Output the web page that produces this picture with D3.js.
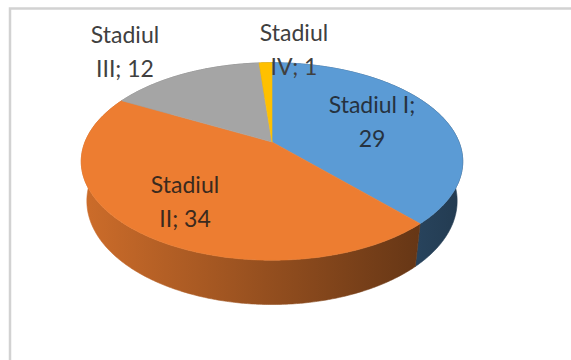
<!DOCTYPE html>
<html>
<head>
<meta charset="utf-8">
<script src="https://cdn.jsdelivr.net/npm/d3@7"></script>
<style>
  body { margin: 0; background: #fff; }
  svg { display: block; }
</style>
</head>
<body>
<div id="chart"></div>
<script>
// Data
const categories = ['Stadiul I', 'Stadiul II', 'Stadiul III', 'Stadiul IV'];
const values = [29, 34, 12, 1];
const colors = ['#5B9BD5', '#ED7D31', '#A5A5A5', '#FFC000'];
// word index where each label wraps to the second line
const labelBreaks = [2, 1, 1, 1];

const width = 571, height = 360;

// 3D pie geometry (perspective projection)
const cx = 272, cy = 142, S = 187;
const elev = 30.5 * Math.PI / 180;
const D = 4.37;     // camera distance, in radius units
const H = 0.25;     // pie thickness, in radius units

const xScale = d3.scaleLinear().domain([-1, 1]).range([cx - S, cx + S]);
const yScale = d3.scaleLinear().domain([-1, 1]).range([cy - S, cy + S]);

function project(theta, r, up) {
  const x = Math.sin(theta) * r;
  const z = -Math.cos(theta) * r;
  const sy = z * Math.sin(elev) - up * Math.cos(elev);
  const d = D - (z * Math.cos(elev) + up * Math.sin(elev));
  const f = D / d;
  return [xScale(x * f), yScale(sy * f)];
}

function arcPoints(a0, a1, up) {
  const n = Math.max(2, Math.ceil((a1 - a0) / (Math.PI / 360)));
  return d3.range(n + 1).map(i => project(a0 + (a1 - a0) * i / n, 1, up));
}

const svg = d3.select('#chart')
  .append('svg')
  .attr('width', width)
  .attr('height', height);

// Chart frame (only top and left edges show)
svg.append('path')
  .attr('d', `M10,${height} L10,8.5 L${width},8.5`)
  .attr('fill', 'none')
  .attr('stroke', '#d2d2d2')
  .attr('stroke-width', 2.5);

const pie = d3.pie().sort(null).value(d => d);
const arcs = pie(values);

const defs = svg.append('defs');
arcs.forEach((a, i) => {
  const base = d3.rgb(colors[i]);
  const shade = k => d3.rgb(base.r * k, base.g * k, base.b * k).formatHex();
  const grad = defs.append('linearGradient')
    .attr('id', `side-${i}`)
    .attr('gradientUnits', 'userSpaceOnUse')
    .attr('x1', cx - S).attr('x2', cx + S)
    .attr('y1', 0).attr('y2', 0);
  grad.append('stop').attr('offset', 0).attr('stop-color', shade(0.86));
  grad.append('stop').attr('offset', 1).attr('stop-color', shade(0.38));
});

const line = d3.line();

// Side walls, back slices first
const wallGroup = svg.append('g').attr('class', 'walls');
const order = arcs.map((a, i) => i).sort((p, q) => {
  const dp = Math.abs((arcs[p].startAngle + arcs[p].endAngle) / 2 - Math.PI);
  const dq = Math.abs((arcs[q].startAngle + arcs[q].endAngle) / 2 - Math.PI);
  return dq - dp;
});
order.forEach(i => {
  const a = arcs[i];
  const top = arcPoints(a.startAngle, a.endAngle, 0);
  const bottom = arcPoints(a.startAngle, a.endAngle, -H).reverse();
  wallGroup.append('path')
    .attr('d', line(top.concat(bottom)) + 'Z')
    .attr('fill', `url(#side-${i})`)
    .attr('stroke', `url(#side-${i})`)
    .attr('stroke-width', 0.6);
});

// Top faces
const topGroup = svg.append('g').attr('class', 'tops');
arcs.forEach((a, i) => {
  const pts = [project(0, 0, 0)].concat(arcPoints(a.startAngle, a.endAngle, 0));
  topGroup.append('path')
    .attr('d', line(pts) + 'Z')
    .attr('fill', colors[i])
    .attr('stroke', colors[i])
    .attr('stroke-width', 0.6);
});

// Data labels
const labelPos = [[372, 113], [185, 193], [125, 43], [294, 41]];
const labelColor = ['#26323f', '#3a2a1e', '#404040', '#404040'];
const labels = svg.append('g')
  .attr('font-family', 'Lato, "Open Sans", sans-serif')
  .attr('font-size', 23)
  .attr('text-anchor', 'middle');

categories.forEach((c, i) => {
  const words = `${c}; ${values[i]}`.split(' ');
  const lines = [words.slice(0, labelBreaks[i]).join(' '), words.slice(labelBreaks[i]).join(' ')];
  const t = labels.append('text')
    .attr('x', labelPos[i][0])
    .attr('y', labelPos[i][1])
    .attr('fill', labelColor[i]);
  lines.forEach((l, j) => {
    t.append('tspan')
      .attr('x', labelPos[i][0])
      .attr('dy', j === 0 ? 0 : 34)
      .text(l);
  });
});
</script>
</body>
</html>
